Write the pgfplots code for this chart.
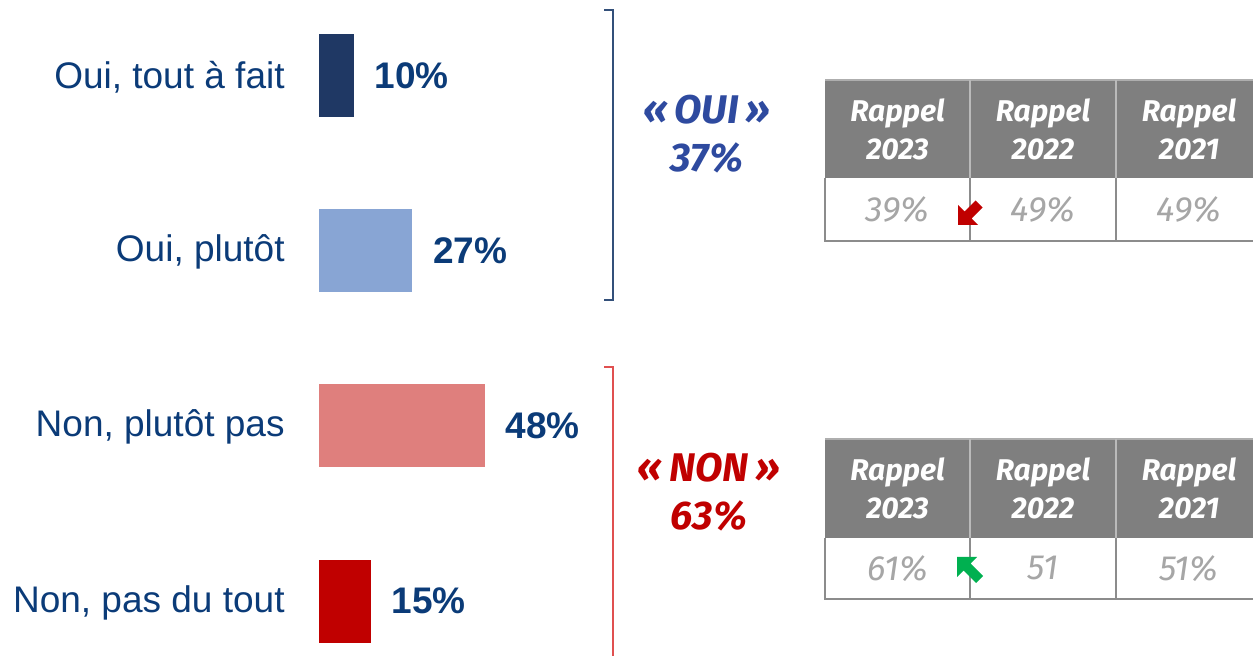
\documentclass[border=0pt]{standalone}
\usepackage{pgfplots}
\pgfplotsset{compat=1.18}
\usepackage{fontspec}
\setmainfont{Liberation Sans}
\newfontfamily\fira{Fira Sans}
\definecolor{navy}{HTML}{1F3864}
\definecolor{lblue}{HTML}{88A5D4}
\definecolor{lred}{HTML}{DF7F7D}
\definecolor{dred}{HTML}{C00000}
\definecolor{txt}{HTML}{0B3B78}
\definecolor{ouiblue}{HTML}{2E4A9F}
\definecolor{hdr}{HTML}{7F7F7F}
\definecolor{brd}{HTML}{8C8C8C}
\definecolor{bodytxt}{HTML}{A6A6A6}
\definecolor{brk}{HTML}{33507A}
\definecolor{brkred}{HTML}{E05050}
\definecolor{grn}{HTML}{00B050}
\begin{document}
\begin{tikzpicture}
\begin{scope}[x=0.5pt,y=-0.5pt]
\useasboundingbox (0,0) rectangle (1253,656);
\end{scope}
\begin{axis}[
  at={(0pt,0pt)}, anchor=north west,
  scale only axis, width=626.5pt, height=328pt,
  xmin=-92.46, xmax=270.7, ymin=0, ymax=656, y dir=reverse,
  hide axis,
  xbar, bar width=41.5pt, bar shift=0pt,
  /pgf/number format/assume math mode=true,
  nodes near coords={\pgfmathprintnumber{\pgfplotspointmeta}\%},
  point meta=x,
  every node near coord/.style={anchor=west, xshift=7pt, font=\fontsize{18.5}{22}\selectfont\bfseries, text=txt},
]
\addplot[draw=none, fill=navy] coordinates {(10,75.5)};
\addplot[draw=none, fill=lblue] coordinates {(27,250.5)};
\addplot[draw=none, fill=lred] coordinates {(48,425.5)};
\addplot[draw=none, fill=dred] coordinates {(15,601)};
\end{axis}
\begin{scope}[x=0.5pt,y=-0.5pt]
\clip (0,0) rectangle (1253,656);
% category labels
\begin{scope}[every node/.style={anchor=east, text=txt, font=\fontsize{18.5}{22}\selectfont, inner sep=0pt}]
\node at (285,77) {Oui, tout à fait};
\node at (285,252) {Oui, plutôt};
\node at (285,427) {Non, plutôt pas};
\node at (285,602.5) {Non, pas du tout};
\end{scope}
% brackets
\draw[brk, line width=1pt] (604,10) -- (613,10) -- (613,300) -- (604,300);
\draw[brkred, line width=1pt] (604,367) -- (613,367) -- (613,670);
% OUI / NON
\node[text=ouiblue, font=\fira\fontsize{20}{24}\selectfont\bfseries\itshape, align=center] at (707,134) {«\,OUI\,»\\37\%};
\node[text=dred, font=\fira\fontsize{20}{24}\selectfont\bfseries\itshape, align=center] at (709,492) {«\,NON\,»\\63\%};
% tables
\foreach \ty/\hy/\by/\va/\vb/\vc in {80/178/241/39\%/49\%/49\%, 439/538/599/61\%/51/51\%}{
  \fill[hdr] (825,\ty) rectangle (1270,\hy);
  \draw[brd!70!white, line width=1pt] (825,\ty) -- (1270,\ty);
  \draw[brd!60!white, line width=0.8pt] (970,\ty) -- (970,\hy) (1116,\ty) -- (1116,\hy);
  \draw[brd, line width=1pt] (825,\hy) -- (825,\by) -- (1270,\by) (970,\hy) -- (970,\by) (1116,\hy) -- (1116,\by);
  \foreach \cx/\yr/\val in {897.5/2023/\va, 1043/2022/\vb, 1189/2021/\vc}{
    \node[text=white, font=\fira\fontsize{15}{19}\selectfont\bfseries\itshape, align=center] at (\cx,{(\ty+\hy)/2}) {Rappel\\\yr};
    \node[text=bodytxt, font=\fira\fontsize{17.5}{20}\selectfont\itshape] at (\cx,{(\hy+\by)/2}) {\val};
  }
}
% arrows
\fill[dred] (958,225) -- ++(20,0) -- ++(-6.5,-6.5) -- ++(11,-11) -- ++(-7,-7) -- ++(-11,11) -- ++(-6.5,-6.5) -- cycle;
\fill[grn] (957,557) -- ++(20,0) -- ++(-6.5,6.5) -- ++(12.5,12.5) -- ++(-7,7) -- ++(-12.5,-12.5) -- ++(-6.5,6.5) -- cycle;
\end{scope}
\end{tikzpicture}
\end{document}
